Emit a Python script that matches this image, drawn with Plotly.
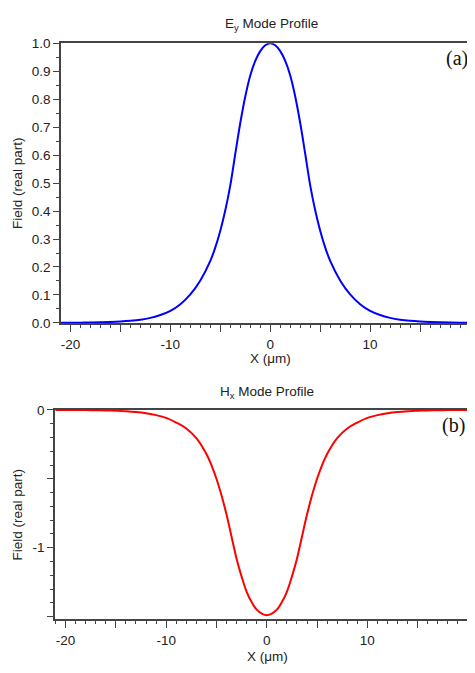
import plotly.graph_objects as go

# ---- data ----
x_pos = [-21, -20, -19, -18, -17, -16, -15, -14, -13, -12, -11, -10, -9, -8, -7, -6,
         -5.5, -5, -4.5, -4, -3.5, -3, -2.5, -2, -1.5, -1, -0.5, 0, 0.5, 1, 1.5, 2, 2.5,
         3, 3.5, 4, 4.5, 5, 5.5,
         6, 7, 8, 9, 10, 11, 12, 13, 14, 15, 16, 17, 18, 19, 20, 21]

ey_field = [0.0003, 0.0005, 0.0008, 0.0013, 0.0021, 0.0032, 0.0049, 0.0075, 0.0115, 0.018,
            0.028, 0.043, 0.067, 0.102, 0.152, 0.222,
            0.27, 0.33, 0.403, 0.492, 0.605, 0.715, 0.81, 0.885, 0.937, 0.972, 0.993, 1.0,
            0.993, 0.972, 0.937, 0.885, 0.81, 0.715, 0.605, 0.492, 0.403, 0.33, 0.27,
            0.222, 0.152, 0.102, 0.067, 0.043, 0.028, 0.018, 0.0115, 0.0075, 0.0049,
            0.0032, 0.0021, 0.0013, 0.0008, 0.0005, 0.0003]

hx_field = [-0.0004, -0.0007, -0.0011, -0.0017, -0.0027, -0.004, -0.0065, -0.010, -0.016,
            -0.025, -0.038, -0.058, -0.092, -0.135, -0.205, -0.32,
            -0.40, -0.50, -0.62, -0.76, -0.92, -1.08, -1.21, -1.32, -1.395, -1.45, -1.478,
            -1.49,
            -1.478, -1.45, -1.395, -1.32, -1.21, -1.08, -0.92, -0.76, -0.62, -0.50, -0.40,
            -0.32, -0.205, -0.135, -0.092, -0.058, -0.038, -0.025, -0.016, -0.010, -0.0065,
            -0.004, -0.0027, -0.0017, -0.0011, -0.0007, -0.0004]

x_tickvals = [-20, -15, -10, -5, 0, 5, 10, 15, 20]
x_ticktext = ["-20", "", "-10", "", "0", "", "10", "", "20"]
top_y_tickvals = [0.0, 0.1, 0.2, 0.3, 0.4, 0.5, 0.6, 0.7, 0.8, 0.9, 1.0]
bot_y_tickvals = [0, -0.5, -1, -1.5]
bot_y_ticktext = ["0", "", "-1", ""]

# The page body keeps its default 8 px margin, so the figure is sized to end
# exactly at the right / bottom edges of the 475 x 673 window.
OFF = 8
W, H = 475 - OFF, 673 - OFF
FONT = "Liberation Sans, Arial, sans-serif"
TXT = "#222222"
AX = "#444444"

def fx(px):
    return (px - OFF) / W

def fy(py):
    return 1 - (py - OFF) / H

fig = go.Figure()
fig.add_trace(go.Scatter(x=x_pos, y=ey_field, mode="lines", line=dict(color="#0000ff", width=2, shape="spline"),
                         xaxis="x", yaxis="y", showlegend=False, hoverinfo="skip"))
fig.add_trace(go.Scatter(x=x_pos, y=hx_field, mode="lines", line=dict(color="#ff0000", width=2, shape="spline"),
                         xaxis="x2", yaxis="y2", showlegend=False, hoverinfo="skip"))

MINOR = dict(ticks="outside", ticklen=3.5, tickwidth=1.2, tickcolor=AX, showgrid=False)

def xaxis_cfg(domain, rng, anchor):
    return dict(domain=domain, range=rng, anchor=anchor, showgrid=False, zeroline=False,
                showline=True, linecolor=AX, linewidth=1.5, mirror=True,
                ticks="outside", ticklen=7, tickwidth=1.3, tickcolor=AX,
                tickvals=x_tickvals, ticktext=x_ticktext,
                minor=dict(MINOR, dtick=1, tick0=0),
                tickfont=dict(family=FONT, size=13.5, color=TXT), ticklabelstandoff=1)

def yaxis_cfg(domain, rng, anchor, **kw):
    d = dict(domain=domain, range=rng, anchor=anchor, showgrid=False, zeroline=False,
             showline=True, linecolor=AX, linewidth=1.5,
             ticks="outside", ticklen=6, tickwidth=1.3, tickcolor=AX,
             tickfont=dict(family=FONT, size=13.5, color=TXT))
    d.update(kw)
    return d

fig.update_layout(
    width=W, height=H, margin=dict(l=0, r=0, t=0, b=0), autosize=False,
    paper_bgcolor="white", plot_bgcolor="white",
    xaxis=xaxis_cfg([fx(61), 1], [-20.95, 20.5], "y"),
    yaxis=yaxis_cfg([fy(323), fy(37)], [0, 1], "x",
                    tickvals=top_y_tickvals, tickformat=".1f",
                    minor=dict(MINOR, dtick=0.05, tick0=0)),
    xaxis2=xaxis_cfg([fx(55), 1], [-21.05, 20.7], "y2"),
    yaxis2=yaxis_cfg([fy(626), fy(412)], [-1.518, 0], "x2",
                     tickvals=bot_y_tickvals, ticktext=bot_y_ticktext,
                     minor=dict(MINOR, dtick=0.1, tick0=0)),
)

def ann(text, x, y, size=13.5, family=FONT, angle=0, color=TXT):
    fig.add_annotation(text=text, x=fx(x), y=fy(y), xref="paper", yref="paper",
                       showarrow=False, textangle=angle, xanchor="center", yanchor="middle",
                       font=dict(family=family, size=size, color=color))

ann("E<sub>y</sub> Mode Profile", 271, 18)
ann("H<sub>x</sub> Mode Profile", 267, 394)
ann("X (μm)", 270, 359)
ann("X (μm)", 267, 664)
ann("Field (real part)", 17, 180, angle=-90)
ann("Field (real part)", 17, 519, angle=-90)
ann("(a)", 457, 53, size=20, family="Liberation Serif, Times New Roman, serif", color="#111111")
ann("(b)", 453, 428, size=20, family="Liberation Serif, Times New Roman, serif", color="#111111")

fig.write_html("out.html", config={"displayModeBar": False})
